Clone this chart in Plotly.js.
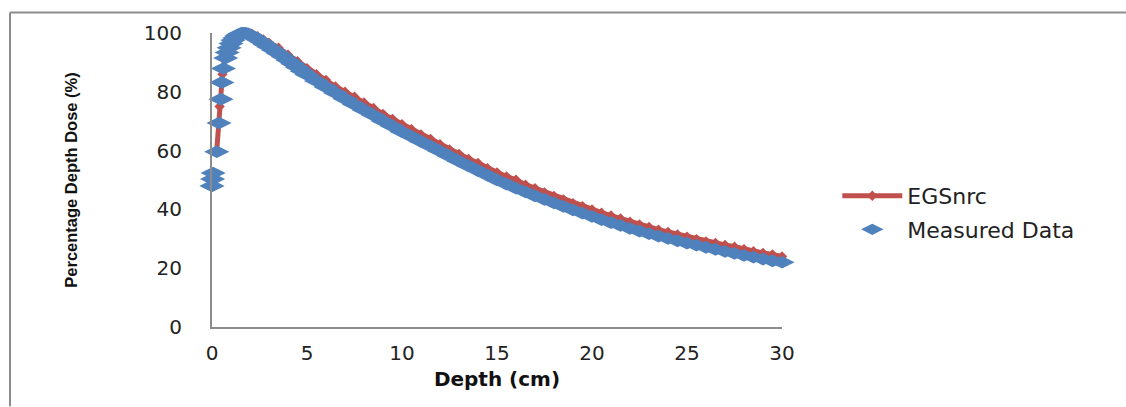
<!DOCTYPE html>
<html>
<head>
<meta charset="utf-8">
<script src="https://cdn.plot.ly/plotly-3.0.1.min.js"></script>
<style>
  html, body { margin: 0; padding: 0; background: #fff; overflow: hidden; width: 1126px; height: 407px; }
  #chart { position: absolute; left: 0; top: 0; width: 1126px; height: 407px; }
</style>
</head>
<body>
<div id="chart"></div>
<script>
// Measured data (depth in cm, percentage depth dose)
const measuredDepth = [0, 0.03, 0.06, 0.25, 0.37, 0.47, 0.52, 0.6, 0.72, 0.8, 0.9, 1.0, 1.1, 1.2, 1.3, 1.4, 1.5, 1.6, 1.7, 1.8, 1.9, 2.0, 2.2, 2.4, 2.6, 2.8, 3.0, 3.25, 3.5, 3.75, 4.0, 4.25, 4.5, 4.75, 5.0, 5.5, 6.0, 6.5, 7.0, 7.5, 8.0, 8.5, 9.0, 9.5, 10.0, 10.5, 11.0, 11.5, 12.0, 12.5, 13.0, 13.5, 14.0, 14.5, 15.0, 15.5, 16.0, 16.5, 17.0, 17.5, 18.0, 18.5, 19.0, 19.5, 20.0, 20.5, 21.0, 21.5, 22.0, 22.5, 23.0, 23.5, 24.0, 24.5, 25.0, 25.5, 26.0, 26.5, 27.0, 27.5, 28.0, 28.5, 29.0, 29.5, 30.0];
const measuredDose  = [48, 50.3, 52.4, 59.6, 69.4, 77.5, 83.2, 87.9, 91.5, 93.4, 95.0, 96.4, 97.5, 98.3, 99.0, 99.5, 99.8, 100, 100, 99.9, 99.7, 99.4, 98.6, 97.8, 97.0, 96.1, 95.2, 94.1, 93.0, 91.9, 90.7, 89.5, 88.3, 87.0, 85.8, 83.7, 81.6, 79.6, 77.6, 75.7, 73.8, 72.0, 70.1, 68.3, 66.4, 64.8, 63.1, 61.5, 59.8, 58.1, 56.4, 54.8, 53.2, 51.6, 50.0, 48.6, 47.2, 45.9, 44.6, 43.4, 42.2, 41.0, 39.8, 38.7, 37.6, 36.5, 35.5, 34.5, 33.5, 32.6, 31.7, 30.9, 30.1, 29.3, 28.5, 27.8, 27.1, 26.4, 25.7, 25.0, 24.3, 23.7, 23.1, 22.5, 22.0];

// EGSnrc Monte Carlo simulation
const egsDepth = [0.25, 0.4, 0.55, 0.7, 0.9, 1.2, 1.5, 1.8, 2.1, 2.4, 2.7, 3.0, 3.5, 4.0, 4.5, 5.0, 5.5, 6.0, 6.5, 7.0, 7.5, 8.0, 8.5, 9.0, 9.5, 10.0, 10.5, 11.0, 11.5, 12.0, 12.5, 13.0, 13.5, 14.0, 14.5, 15.0, 15.5, 16.0, 16.5, 17.0, 17.5, 18.0, 18.5, 19.0, 19.5, 20.0, 20.5, 21.0, 21.5, 22.0, 22.5, 23.0, 23.5, 24.0, 24.5, 25.0, 25.5, 26.0, 26.5, 27.0, 27.5, 28.0, 28.5, 29.0, 29.5, 30.0];
const egsDose  = [60, 75, 86, 93, 96, 98.5, 99.7, 100, 99.8, 98.9, 97.8, 96.7, 95.0, 92.6, 90.4, 88.0, 86.0, 84.0, 81.8, 80.0, 78.3, 76.4, 74.5, 72.5, 70.8, 69.0, 67.3, 65.5, 64.0, 62.2, 60.4, 58.9, 57.2, 55.8, 54.0, 52.6, 51.2, 50.1, 48.4, 47.2, 45.8, 44.6, 43.4, 42.1, 41.1, 40.0, 38.9, 37.9, 36.9, 35.8, 34.9, 34.0, 33.1, 32.3, 31.5, 30.7, 29.9, 29.1, 28.6, 27.9, 27.3, 26.5, 25.8, 25.2, 24.7, 24.0];

const xTicks = [0, 5, 10, 15, 20, 25, 30];
const yTicks = [0, 20, 40, 60, 80, 100];

const traces = [
  {
    x: egsDepth, y: egsDose, name: 'EGSnrc', type: 'scatter', mode: 'lines+markers',
    line: { color: '#C0504D', width: 5 },
    marker: { symbol: 'diamond', size: 8, color: '#C0504D' },
    cliponaxis: false, legendgroup: 'a'
  },
  {
    x: measuredDepth, y: measuredDose, name: 'Measured Data', type: 'scatter', mode: 'markers',
    marker: { symbol: 'diamond-wide', size: 18, color: '#4F81BD' },
    cliponaxis: false, legendgroup: 'b'
  }
];

const axisFont = { family: 'DejaVu Sans, sans-serif', size: 20, color: '#222' };

// Outer chart-area frame (top and left edges only, as in the reference crop)
const frameShapes = [
  { type: 'line', xref: 'paper', yref: 'paper', x0: (10 - 212) / 570, x1: (1126 - 212) / 570, y0: (327.5 - 12) / 295, y1: (327.5 - 12) / 295, line: { color: '#8c8c8c', width: 2 } },
  { type: 'line', xref: 'paper', yref: 'paper', x0: (10 - 212) / 570, x1: (10 - 212) / 570, y0: (327.5 - 12) / 295, y1: (327.5 - 407) / 295, line: { color: '#8c8c8c', width: 2 } }
];

const layout = {
  width: 1126, height: 407,
  margin: { l: 212, r: 344, t: 32.5, b: 79.5, pad: 0 },
  paper_bgcolor: '#ffffff', plot_bgcolor: 'rgba(0,0,0,0)',
  showlegend: true,
  shapes: frameShapes,
  legend: {
    x: 1.097, xanchor: 'left', y: 0.388, yanchor: 'middle',
    font: { family: 'DejaVu Sans, sans-serif', size: 22, color: '#222' },
    tracegroupgap: 2, itemwidth: 60, bgcolor: 'rgba(0,0,0,0)'
  },
  xaxis: {
    range: [0, 30], tickvals: xTicks, ticktext: xTicks.map(String),
    showgrid: false, zeroline: false, showline: true, linecolor: '#8c8c8c', linewidth: 2,
    ticks: '', ticklabelstandoff: 7, tickfont: axisFont,
    title: { text: 'Depth (cm)', font: { family: 'DejaVu Sans, sans-serif', size: 20, weight: 'bold', color: '#111' }, standoff: 8 }
  },
  yaxis: {
    range: [0, 100], tickvals: yTicks, ticktext: yTicks.map(String),
    showgrid: false, zeroline: false, showline: true, linecolor: '#8c8c8c', linewidth: 2,
    ticks: '', ticklabelstandoff: 24, tickfont: axisFont,
    title: { text: 'Percentage Depth Dose (%)', font: { family: 'Liberation Sans Narrow, Liberation Sans, sans-serif', size: 16.5, weight: 'bold', color: '#111' }, standoff: 62 }
  }
};

Plotly.newPlot('chart', traces, layout, { displayModeBar: false, staticPlot: true });
</script>
</body>
</html>
